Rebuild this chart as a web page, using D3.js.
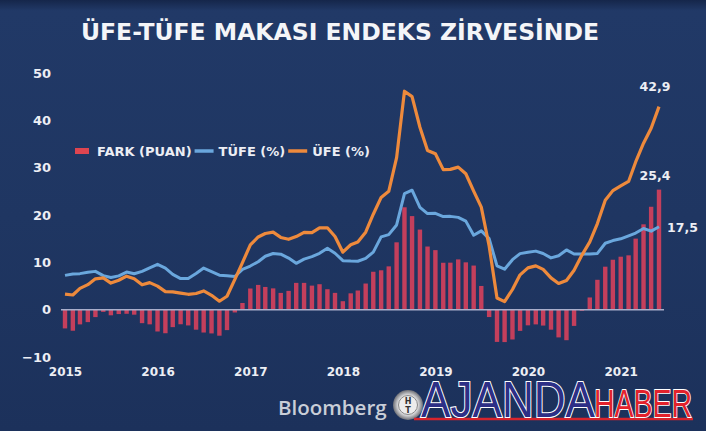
<!DOCTYPE html>
<html>
<head>
<meta charset="utf-8">
<script src="https://cdn.jsdelivr.net/npm/d3@7"></script>
<style>
  html, body { margin: 0; padding: 0; background: #1f3560; }
  svg { display: block; }
</style>
</head>
<body>
<script>
// monthly, Jan 2015 .. Jun 2021
const START_YEAR = 2015;
const tufe = [
  7.24, 7.55, 7.61, 7.91, 8.09, 7.20, 6.81, 7.14, 7.95, 7.58, 8.10, 8.81,
  9.58, 8.78, 7.46, 6.57, 6.58, 7.64, 8.79, 8.05, 7.28, 7.16, 7.00, 8.53,
  9.22, 10.13, 11.29, 11.87, 11.72, 10.90, 9.79, 10.68, 11.20, 11.90, 12.98, 11.92,
  10.35, 10.26, 10.23, 10.85, 12.15, 15.39, 15.85, 17.90, 24.52, 25.24, 21.62, 20.30,
  20.35, 19.67, 19.71, 19.50, 18.71, 15.72, 16.65, 15.01, 9.26, 8.55, 10.56, 11.84,
  12.15, 12.37, 11.86, 10.94, 11.39, 12.62, 11.76, 11.77, 11.75, 11.89, 14.03, 14.60,
  14.97, 15.61, 16.19, 17.14, 16.59, 17.53
];
const ufe = [
  3.28, 3.10, 4.50, 5.28, 6.52, 6.73, 5.62, 6.21, 7.08, 6.52, 5.25, 5.71,
  4.97, 3.80, 3.77, 3.49, 3.25, 3.41, 3.96, 3.03, 1.78, 2.84, 6.41, 9.94,
  13.69, 15.36, 16.09, 16.37, 15.26, 14.87, 15.45, 16.34, 16.28, 17.28, 17.30, 15.47,
  12.14, 13.71, 14.28, 16.37, 20.16, 23.71, 25.00, 32.13, 46.15, 45.01, 38.54, 33.64,
  32.93, 29.58, 29.64, 30.12, 28.71, 25.04, 21.66, 13.45, 2.45, 1.70, 4.26, 7.36,
  8.84, 9.26, 8.50, 6.71, 5.53, 6.17, 8.33, 11.53, 14.33, 18.20, 23.11, 25.15,
  26.16, 27.09, 31.20, 35.17, 38.33, 42.89
];
const fark = [
  -3.96, -4.45, -3.11, -2.63, -1.57, -0.47, -1.19, -0.93, -0.87, -1.06, -2.85, -3.10,
  -4.61, -4.98, -3.69, -3.08, -3.33, -4.23, -4.83, -5.02, -5.50, -4.32, -0.59, 1.41,
  4.47, 5.23, 4.80, 4.50, 3.54, 3.97, 5.66, 5.66, 5.08, 5.38, 4.32, 3.55,
  1.79, 3.45, 4.05, 5.52, 8.01, 8.32, 9.15, 14.23, 21.63, 19.77, 16.92, 13.34,
  12.58, 9.91, 9.93, 10.62, 10.00, 9.32, 5.01, -1.56, -6.81, -6.85, -6.30, -4.48,
  -3.31, -3.11, -3.36, -4.23, -5.86, -6.45, -3.43, -0.24, 2.58, 6.31, 9.08, 10.55,
  11.19, 11.48, 15.01, 18.03, 21.74, 25.36
];
const yearTicks = [2015, 2016, 2017, 2018, 2019, 2020, 2021];
const yTicks = [-10, 0, 10, 20, 30, 40, 50];
const endLabels = { ufe: '42,9', fark: '25,4', tufe: '17,5' };
const legendItems = [
  { key: 'fark', label: 'FARK (PUAN)' },
  { key: 'tufe', label: 'TÜFE (%)' },
  { key: 'ufe', label: 'ÜFE (%)' }
];

const W = 706, H = 431;
const colors = { fark: '#c43f5c', tufe: '#6aa7dd', ufe: '#ee8a3c' };
const FONT = '"DejaVu Sans", Verdana, sans-serif';

const start = new Date(START_YEAR, 0, 1);
const dates = tufe.map((d, i) => d3.timeMonth.offset(start, i));

const x = d3.scaleTime()
  .domain([dates[0], dates[dates.length - 1]])
  .range([65, 659]);
const y = d3.scaleLinear().domain([-10, 50]).range([357, 73]);

const svg = d3.select('body').append('svg')
  .attr('width', W).attr('height', H);

// background + slightly darker top strip
const defs = svg.append('defs');
const bg = defs.append('linearGradient').attr('id', 'bg')
  .attr('x1', 0).attr('y1', 0).attr('x2', 0).attr('y2', 1);
bg.append('stop').attr('offset', 0).attr('stop-color', '#15264a');
bg.append('stop').attr('offset', 0.025).attr('stop-color', '#213967');
bg.append('stop').attr('offset', 0.5).attr('stop-color', '#1f3662');
bg.append('stop').attr('offset', 1).attr('stop-color', '#1c315b');
svg.append('rect').attr('width', W).attr('height', H).attr('fill', 'url(#bg)');

// title
svg.append('text')
  .attr('x', 81).attr('y', 40)
  .attr('textLength', 518).attr('lengthAdjust', 'spacingAndGlyphs')
  .attr('fill', '#f4f5f8')
  .style('font-family', FONT).style('font-weight', 'bold').style('font-size', '23px')
  .text('ÜFE-TÜFE  MAKASI  ENDEKS  ZİRVESİNDE');

// bars
svg.append('g')
  .selectAll('rect')
  .data(fark)
  .join('rect')
  .attr('x', (d, i) => x(dates[i]) - 2.2)
  .attr('width', 4.4)
  .attr('y', (d) => y(Math.max(0, d)))
  .attr('height', (d) => Math.abs(y(d) - y(0)))
  .attr('fill', colors.fark);

// zero line
svg.append('line')
  .attr('x1', x(dates[0]) - 4).attr('x2', x(dates[dates.length - 1]) + 5)
  .attr('y1', y(0)).attr('y2', y(0))
  .attr('stroke', '#a9aecb').attr('stroke-width', 1.5);

const line = (arr) => d3.line()
  .x((d, i) => x(dates[i]))
  .y((d) => y(d))
  .curve(d3.curveLinear)(arr);

svg.append('path')
  .attr('d', line(tufe))
  .attr('fill', 'none').attr('stroke', colors.tufe)
  .attr('stroke-width', 3).attr('stroke-linejoin', 'round');

svg.append('path')
  .attr('d', line(ufe))
  .attr('fill', 'none').attr('stroke', colors.ufe)
  .attr('stroke-width', 3.2).attr('stroke-linejoin', 'round');

// axes
const xAxis = svg.append('g')
  .attr('transform', 'translate(0, 364)')
  .call(d3.axisBottom(x)
    .tickValues(yearTicks.map((yr) => new Date(yr, 0, 1)))
    .tickFormat(d3.timeFormat('%Y'))
    .tickSize(0));
xAxis.select('.domain').remove();
xAxis.selectAll('text')
  .attr('fill', '#eceef4')
  .style('font-family', FONT).style('font-weight', 'bold').style('font-size', '12px');

const yAxis = svg.append('g')
  .attr('transform', 'translate(51, 0)')
  .call(d3.axisLeft(y).tickValues(yTicks).tickSize(0).tickPadding(0));
yAxis.select('.domain').remove();
yAxis.selectAll('text')
  .attr('fill', '#eceef4')
  .style('font-family', FONT).style('font-weight', 'bold').style('font-size', '13px');

// legend
const legend = svg.append('g').attr('transform', 'translate(75, 151)');
let lx = 0;
legendItems.forEach((item) => {
  const g = legend.append('g').attr('transform', `translate(${lx}, 0)`);
  if (item.key === 'fark') {
    g.append('rect').attr('x', 0).attr('y', -3).attr('width', 14).attr('height', 6)
      .attr('fill', '#de4550');
  } else {
    g.append('line').attr('x1', 0).attr('x2', 19).attr('y1', 0).attr('y2', 0)
      .attr('stroke', colors[item.key]).attr('stroke-width', 3.5);
  }
  const sw = item.key === 'fark' ? 22 : 24;
  const t = g.append('text')
    .attr('x', sw).attr('y', 4.5)
    .attr('fill', '#eceef4')
    .style('font-family', FONT).style('font-weight', 'bold').style('font-size', '13px')
    .text(item.label);
  lx += sw + t.node().getComputedTextLength() + 3;
});

// end labels
const last = tufe.length - 1;
const endLab = (val, txt, dx, dy, anchor) => svg.append('text')
  .attr('x', x(dates[last]) + dx).attr('y', y(val) + dy)
  .attr('text-anchor', anchor)
  .attr('fill', '#eceef4')
  .style('font-family', FONT).style('font-weight', 'bold').style('font-size', '12.5px')
  .text(txt);
endLab(ufe[last], endLabels.ufe, -4, -16, 'middle');
endLab(fark[last], endLabels.fark, -4, -10, 'middle');
endLab(tufe[last], endLabels.tufe, 8, 5, 'start');

// bottom branding
svg.append('text')
  .attr('x', 278).attr('y', 415)
  .attr('fill', '#c9ced8')
  .style('font-family', '"Open Sans", sans-serif').style('font-weight', 600).style('font-size', '20.5px')
  .text('Bloomberg');

const logo = svg.append('g').attr('transform', 'translate(408, 405)');
const lg = defs.append('radialGradient').attr('id', 'ring');
lg.append('stop').attr('offset', 0.6).attr('stop-color', '#f2f2f2');
lg.append('stop').attr('offset', 1).attr('stop-color', '#6d6f76');
logo.append('circle').attr('r', 15).attr('fill', 'url(#ring)');
logo.append('circle').attr('r', 9.5).attr('fill', '#ececec').attr('stroke', '#888').attr('stroke-width', 1);
logo.append('text').attr('y', -1).attr('text-anchor', 'middle')
  .attr('fill', '#333').style('font-family', FONT).style('font-weight', 'bold').style('font-size', '8px').text('H');
logo.append('text').attr('y', 8).attr('text-anchor', 'middle')
  .attr('fill', '#333').style('font-family', FONT).style('font-weight', 'bold').style('font-size', '8px').text('T');

svg.append('line')
  .attr('x1', 414).attr('x2', 693).attr('y1', 419).attr('y2', 419)
  .attr('stroke', '#d8242c').attr('stroke-width', 2.5);

svg.append('text')
  .attr('x', 421).attr('y', 417)
  .attr('textLength', 174).attr('lengthAdjust', 'spacingAndGlyphs')
  .attr('fill', '#2d2f86').attr('stroke', '#ffffff').attr('stroke-width', 2.2)
  .attr('paint-order', 'stroke')
  .style('font-family', '"Liberation Sans", Arial, sans-serif').style('font-size', '50px')
  .text('AJANDA');

svg.append('text')
  .attr('x', 594).attr('y', 417)
  .attr('textLength', 98).attr('lengthAdjust', 'spacingAndGlyphs')
  .attr('fill', '#e3222c').attr('stroke', '#ffffff').attr('stroke-width', 1.8)
  .attr('paint-order', 'stroke')
  .style('font-family', '"Liberation Sans", Arial, sans-serif').style('font-size', '38px')
  .text('HABER');
</script>
</body>
</html>
